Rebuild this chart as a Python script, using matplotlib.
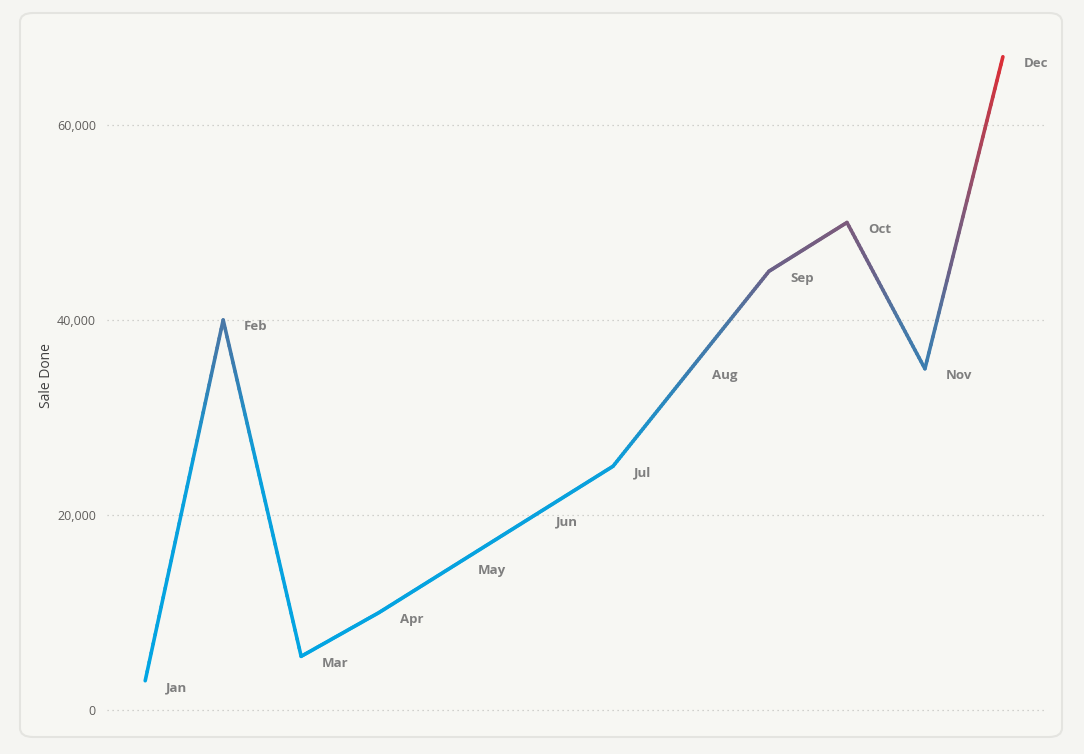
import numpy as np
import matplotlib.pyplot as plt
from matplotlib.collections import LineCollection
from matplotlib.colors import LinearSegmentedColormap, Normalize
from matplotlib.patches import FancyBboxPatch
from matplotlib.ticker import FuncFormatter

months = ['Jan', 'Feb', 'Mar', 'Apr', 'May', 'Jun',
          'Jul', 'Aug', 'Sep', 'Oct', 'Nov', 'Dec']
sales = [3000, 40000, 5500, 10000, 15000, 20000,
         25000, 35000, 45000, 50000, 35000, 67000]

plt.rcParams['font.family'] = ['Open Sans', 'DejaVu Sans']

fig = plt.figure(figsize=(10.84, 7.54), dpi=100)
fig.patch.set_facecolor('#f5f5f2')

# rounded panel
W, H = 1084, 754
panel = FancyBboxPatch((20 / W, (H - 737) / H), (1062 - 20) / W, (737 - 13) / H,
                       boxstyle='round,pad=0,rounding_size=0.012',
                       transform=fig.transFigure, facecolor='#f7f7f3',
                       edgecolor='#e4e4e0', linewidth=1.5, zorder=-5)
fig.patches.append(panel)

ax = fig.add_axes([107 / W, (H - 724.6) / H, (1045 - 107) / W, (724.6 - 27.5) / H])
ax.set_zorder(2)
ax.set_facecolor('none')
ax.set_xlim(-0.49, 11.54)
ax.set_ylim(-1500, 70000)

# gradient line coloured by value
cmap = LinearSegmentedColormap.from_list('sales', [
    (0.0, '#00a6e4'),
    (25000 / 67000, '#0aa0dc'),
    (35000 / 67000, '#3a7db0'),
    (40000 / 67000, '#4a78a6'),
    (45000 / 67000, '#6a6188'),
    (50000 / 67000, '#7c5b7c'),
    (1.0, '#dc2e36'),
])
norm = Normalize(0, 67000)
x = np.arange(len(sales))
segs, cols = [], []
for i in range(len(sales) - 1):
    t = np.linspace(0, 1, 40)
    xs = x[i] + t
    ys = sales[i] + (sales[i + 1] - sales[i]) * t
    pts = np.column_stack([xs, ys])
    for j in range(len(pts) - 1):
        segs.append(pts[j:j + 2])
        cols.append(cmap(norm((ys[j] + ys[j + 1]) / 2)))
lc = LineCollection(segs, colors=cols, linewidths=2.6, capstyle='round',
                    joinstyle='round', zorder=3)
ax.add_collection(lc)

for xi, v, m in zip(x, sales, months):
    ax.annotate(m, (xi, v), xytext=(21, -7), textcoords='offset pixels',
                ha='left', va='center', fontsize=9.5, fontweight='bold',
                color='#7f7f7f')

ax.set_yticks([0, 20000, 40000, 60000])
ax.yaxis.set_major_formatter(FuncFormatter(lambda v, p: f'{int(v):,}'))
ax.tick_params(axis='y', length=0, pad=8, labelsize=9, labelcolor='#605e5c')
ax.set_xticks([])
ax.grid(axis='y', linestyle=(0, (1, 3)), color='#c4c4c0', linewidth=0.9)
for s in ax.spines.values():
    s.set_visible(False)
ax.set_ylabel('Sale Done', fontsize=10, color='#404040', labelpad=2)

fig.savefig('out.png', dpi=100, facecolor=fig.get_facecolor())
